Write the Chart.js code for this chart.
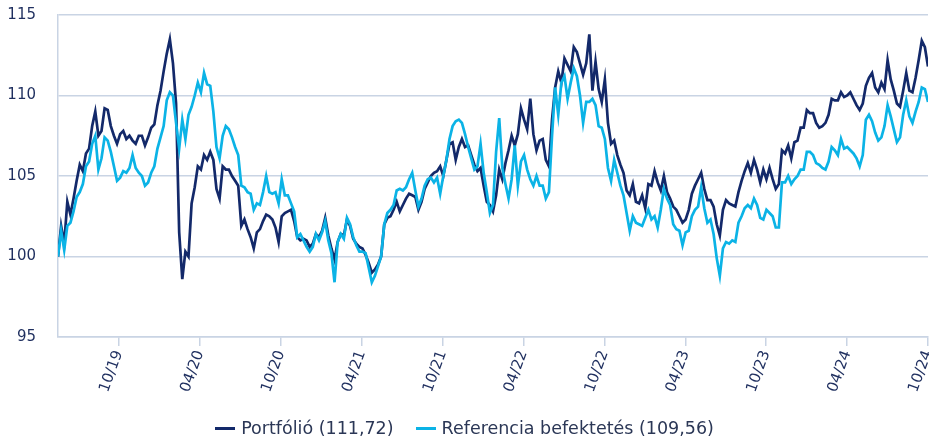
<!DOCTYPE html>
<html>
<head>
<meta charset="utf-8">
<script src="https://cdn.jsdelivr.net/npm/chart.js@4.4.0/dist/chart.umd.min.js"></script>
<style>
html,body{margin:0;padding:0;background:#fff;}
#wrap{position:relative;width:929px;height:440px;overflow:hidden;}
#legend{position:absolute;left:0;top:416px;width:929px;display:flex;justify-content:center;align-items:center;font-family:"DejaVu Sans",Verdana,sans-serif;font-size:17.5px;color:#2b3756;line-height:24px;}
#legend .item{display:flex;align-items:center;}
#legend .item + .item{margin-left:22px;}
#legend .sw{width:20px;height:3px;margin-right:6px;}
</style>
</head>
<body>
<div id="wrap">
<canvas id="c" width="929" height="440"></canvas>
<div id="legend"></div>
</div>
<script>
// Weekly index values, start = 100 (mid-May 2019 .. Oct 2024)
const seriesNames = ['Portfólió (111,72)', 'Referencia befektetés (109,56)'];
const seriesColors = ['#13296a', '#0bb3e6'];

const portfolio = [
100.0,101.9,100.8,103.4,102.6,103.6,104.7,105.7,105.3,106.4,
106.7,108.1,109.0,107.5,107.8,109.2,109.1,108.1,107.5,107.0,
107.6,107.8,107.3,107.5,107.2,107.0,107.5,107.5,106.9,107.4,
108.0,108.2,109.4,110.3,111.5,112.6,113.5,112.0,109.5,101.5,
98.6,100.3,100.0,103.3,104.3,105.6,105.4,106.3,106.0,106.5,
106.0,104.2,103.6,105.6,105.4,105.4,105.0,104.7,104.4,101.9,
102.3,101.7,101.2,100.5,101.5,101.7,102.2,102.6,102.5,102.3,
101.8,100.9,102.5,102.7,102.8,102.9,102.2,101.2,101.0,101.1,
101.0,100.6,100.8,101.4,101.2,101.6,102.4,101.3,100.5,99.8,
100.9,101.4,101.3,102.3,101.9,101.1,100.8,100.6,100.5,100.1,
99.6,99.0,99.2,99.5,100.0,102.0,102.4,102.5,102.9,103.4,
102.8,103.2,103.6,103.9,103.8,103.7,102.9,103.4,104.2,104.6,
105.0,105.2,105.3,105.6,105.0,106.0,107.0,107.1,106.0,106.8,
107.3,106.8,106.9,106.3,105.7,105.3,105.5,104.4,103.4,103.2,
102.8,103.8,105.4,104.8,105.8,106.6,107.5,106.9,107.6,109.2,
108.5,107.9,109.8,107.6,106.6,107.2,107.3,106.0,105.6,108.5,
110.5,111.5,110.8,112.3,111.9,111.5,113.0,112.7,112.0,111.3,
112.0,113.8,110.3,112.1,110.4,109.6,111.0,108.3,107.0,107.2,
106.3,105.7,105.2,104.1,103.8,104.5,103.4,103.3,103.8,103.0,
104.5,104.4,105.3,104.6,104.1,105.0,104.0,103.6,103.1,102.9,
102.5,102.1,102.3,102.9,103.9,104.4,104.8,105.2,104.2,103.5,
103.5,103.1,102.0,101.3,102.9,103.5,103.3,103.2,103.1,104.0,
104.7,105.3,105.8,105.2,106.0,105.4,104.6,105.4,104.8,105.5,
104.8,104.2,104.5,106.6,106.4,106.9,106.1,107.1,107.2,108.0,
108.0,109.1,108.9,108.9,108.3,108.0,108.1,108.3,108.8,109.8,
109.7,109.7,110.2,109.9,110.0,110.2,109.8,109.4,109.1,109.5,
110.6,111.1,111.4,110.5,110.2,110.8,110.4,112.2,111.0,110.3,
109.5,109.3,110.3,111.4,110.3,110.2,111.1,112.2,113.4,113.0,
111.8
];

const reference = [
100.0,101.6,100.4,101.9,102.1,102.8,103.7,104.0,104.5,105.6,
105.9,107.0,107.5,105.4,106.1,107.4,107.2,106.5,105.6,104.7,
104.9,105.3,105.2,105.5,106.3,105.5,105.2,105.0,104.4,104.6,
105.2,105.6,106.7,107.4,108.1,109.7,110.2,110.0,108.3,106.7,
108.5,107.3,108.8,109.3,110.0,110.8,110.2,111.4,110.7,110.6,
109.0,106.8,106.1,107.5,108.1,107.9,107.4,106.8,106.3,104.4,
104.3,104.0,103.9,102.9,103.3,103.2,104.0,105.0,104.0,103.9,
104.0,103.3,104.8,103.8,103.8,103.3,102.8,101.2,101.4,101.0,
100.6,100.3,100.6,101.4,101.0,101.5,102.2,101.0,100.2,98.4,
100.9,101.4,101.1,102.4,102.0,101.2,100.7,100.3,100.3,100.2,
99.3,98.4,98.8,99.4,100.0,102.0,102.7,102.9,103.2,104.1,
104.2,104.1,104.3,104.8,105.2,104.1,103.1,103.6,104.4,104.8,
104.9,104.6,104.9,103.9,105.0,106.0,107.3,108.1,108.4,108.5,
108.3,107.6,106.8,106.1,105.4,105.6,107.0,105.2,104.0,102.7,
103.2,106.5,108.6,105.5,104.5,103.6,104.8,106.9,104.4,105.9,
106.3,105.4,104.8,104.4,105.0,104.4,104.4,103.6,104.0,107.5,
110.5,108.8,110.8,111.2,109.8,110.8,111.7,111.2,110.0,108.3,
109.6,109.6,109.8,109.4,108.1,108.0,107.3,105.5,104.7,106.0,
105.2,104.4,103.8,102.7,101.6,102.5,102.1,102.0,101.9,102.4,
102.9,102.3,102.5,101.8,102.9,104.2,103.6,103.2,102.0,101.7,
101.6,100.7,101.5,101.6,102.5,102.9,103.1,104.3,103.0,102.1,
102.3,101.4,99.9,98.8,100.5,100.9,100.8,101.0,100.9,102.1,
102.5,103.0,103.2,103.0,103.6,103.2,102.4,102.3,102.9,102.7,
102.5,101.8,101.8,104.6,104.6,105.0,104.5,104.8,105.0,105.4,
105.4,106.5,106.5,106.3,105.8,105.7,105.5,105.4,105.9,106.8,
106.6,106.3,107.3,106.7,106.8,106.6,106.4,106.1,105.6,106.3,
108.5,108.8,108.4,107.7,107.2,107.4,108.1,109.4,108.7,107.9,
107.1,107.4,108.8,109.7,108.7,108.3,109.0,109.6,110.5,110.4,
109.6
];

// x axis in months relative to 10/19 (=0); tick labels every 6 months
const tickMonths = [0, 6, 12, 18, 24, 30, 36, 42, 48, 54, 60];
const tickLabels = ['10/19','04/20','10/20','04/21','10/21','04/22','10/22','04/23','10/23','04/24','10/24'];
const startMonth = -4.52;   // first weekly observation
const endMonth = 60;        // last weekly observation
const yTicks = [95, 100, 105, 110, 115];

const nPts = portfolio.length;
const stepMonth = (endMonth - startMonth) / (nPts - 1);
const toPoints = arr => arr.map((v, i) => ({x: startMonth + i * stepMonth, y: v}));

// HTML legend
const legendEl = document.getElementById('legend');
seriesNames.forEach((name, k) => {
  const it = document.createElement('div'); it.className = 'item';
  const sw = document.createElement('div'); sw.className = 'sw'; sw.style.background = seriesColors[k];
  const tx = document.createElement('span'); tx.textContent = name;
  it.appendChild(sw); it.appendChild(tx); legendEl.appendChild(it);
});

const gridColor = '#c9d4e4';
const tickColor = '#1f2f5f';
const fam = '"DejaVu Sans", Verdana, sans-serif';

new Chart(document.getElementById('c'), {
  type: 'line',
  data: {
    datasets: [
      {label: seriesNames[0], data: toPoints(portfolio), borderColor: seriesColors[0], backgroundColor: seriesColors[0], borderWidth: 2.7, pointRadius: 0, tension: 0, order: 1},
      {label: seriesNames[1], data: toPoints(reference), borderColor: seriesColors[1], backgroundColor: seriesColors[1], borderWidth: 2.7, pointRadius: 0, tension: 0, order: 0}
    ]
  },
  options: {
    responsive: false,
    animation: false,
    devicePixelRatio: 1,
    layout: {padding: {top: 15, right: 1, left: 0, bottom: 0}},
    plugins: {legend: {display: false}, tooltip: {enabled: false}},
    scales: {
      x: {
        type: 'linear',
        min: startMonth,
        max: endMonth,
        afterBuildTicks: s => { s.ticks = tickMonths.map(v => ({value: v})); },
        afterFit: s => { s.height = 103; s.paddingLeft = 0; s.paddingRight = 0; },
        ticks: {
          autoSkip: false, minRotation: 70, maxRotation: 70, padding: 2,
          color: tickColor, font: {family: fam, size: 15},
          callback: (v, i) => tickLabels[i]
        },
        grid: {drawOnChartArea: false, drawTicks: true, tickLength: 9, color: gridColor, lineWidth: 1.5},
        border: {display: true, color: gridColor, width: 1.5}
      },
      y: {
        min: 95, max: 115,
        afterBuildTicks: s => { s.ticks = yTicks.map(v => ({value: v})); },
        afterFit: s => { s.width = 58; s.paddingTop = 0; s.paddingBottom = 0; },
        ticks: {padding: 22, color: tickColor, font: {family: fam, size: 15}},
        grid: {color: gridColor, lineWidth: 1.5, drawTicks: false},
        border: {display: true, color: gridColor, width: 1.5}
      }
    }
  }
});
</script>
</body>
</html>
